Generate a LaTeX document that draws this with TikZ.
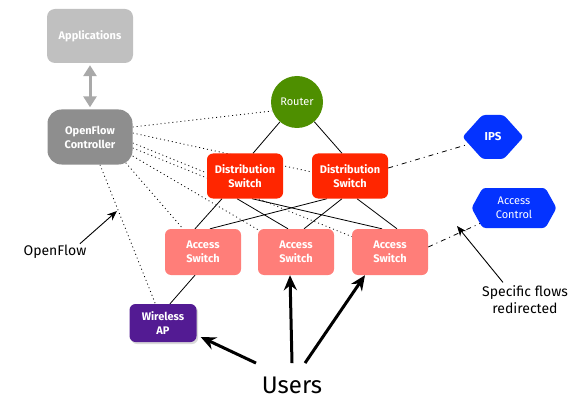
\documentclass[tikz,border=0pt]{standalone}
\usepackage{fontspec}
\setmainfont{Fira Sans}
\usetikzlibrary{arrows.meta,shapes.symbols,shadows,backgrounds}

\definecolor{appgray}{HTML}{C0C0C0}
\definecolor{ctrlgray}{HTML}{8E8E8E}
\definecolor{arrgray}{HTML}{A9A9A9}
\definecolor{routergreen}{HTML}{4E8F00}
\definecolor{distred}{HTML}{FF2600}
\definecolor{accsalmon}{HTML}{FF7E79}
\definecolor{wapurple}{HTML}{531B93}
\definecolor{secblue}{HTML}{0433FF}

\begin{document}
\begin{tikzpicture}[x=1pt,y=-1pt,
    box/.style={rounded corners=6pt, text=white, align=center, inner sep=0pt,
        font=\fontsize{11}{14}\selectfont\bfseries},
    hexa/.style={shape=signal, signal to=east and west, fill=secblue, text=white,
        align=center, inner sep=0pt, rounded corners=3pt,
        font=\fontsize{11}{14}\selectfont},
    link/.style={line width=0.8pt},
    ofline/.style={line width=0.8pt, dash pattern=on 1pt off 3pt},
    redir/.style={line width=0.8pt, dash pattern=on 5pt off 4pt on 1pt off 4pt},
    note/.style={line width=0.9pt, -{Stealth[length=10pt,width=8pt]}},
    userarr/.style={line width=3pt, -{Stealth[length=15pt,width=13pt]}},
    lbl/.style={align=center, font=\fontsize{14}{17}\selectfont}]
    \useasboundingbox (0,0) rectangle (588,414);

    % nodes
    \node[box, fill=appgray, rounded corners=8pt, minimum width=86pt, minimum height=54pt] (apps) at (90,36) {Applications};
    \node[box, fill=ctrlgray, rounded corners=14pt, minimum width=85pt, minimum height=55pt] (ctrl) at (90,137) {OpenFlow\\Controller};
    \node[circle, fill=routergreen, text=white, minimum size=52pt, inner sep=0pt,
        font=\fontsize{11}{14}\selectfont] (router) at (297,102) {Router};
    \node[box, fill=distred, minimum width=76pt, minimum height=45pt] (dist1) at (245,176) {Distribution\\Switch};
    \node[box, fill=distred, minimum width=76pt, minimum height=45pt] (dist2) at (350,176) {Distribution\\Switch};
    \node[box, fill=accsalmon, minimum width=76pt, minimum height=46pt] (acc1) at (203,252) {Access\\Switch};
    \node[box, fill=accsalmon, minimum width=76pt, minimum height=46pt] (acc2) at (296,252) {Access\\Switch};
    \node[box, fill=accsalmon, minimum width=76pt, minimum height=46pt] (acc3) at (390,252) {Access\\Switch};
    \node[box, fill=wapurple, minimum width=67pt, minimum height=38pt,
        drop shadow={opacity=0.3, shadow xshift=1.5pt, shadow yshift=-2pt}] (wap) at (163,323) {Wireless\\AP};
    \node[hexa, signal pointer angle=96, minimum width=61pt, minimum height=44pt, font=\fontsize{11.5}{14}\selectfont\bfseries] (ips) at (493,137) {IPS};
    \node[hexa, signal pointer angle=122, minimum width=85pt, minimum height=40pt] (acl) at (514,208) {Access\\Control};

    \node[font=\fontsize{24}{28}\selectfont] (users) at (292,385) {Users};
    \node[lbl] (oflbl) at (55,252) {OpenFlow};
    \node[lbl] (sflbl) at (525,300) {Specific flows\\redirected};
    \coordinate (ofpt) at (117,211);
    \coordinate (sfpt) at (457,226);

    % connectors, kept behind the nodes
    \begin{scope}[on background layer]
    \draw[link] (router) -- ([xshift=8pt]dist1.north);
    \draw[link] (router) -- ([xshift=-8pt]dist2.north);

    \draw[link] ([xshift=-23pt]dist1.south) -- ([xshift=-8pt]acc1.north);
    \draw[link] ([xshift=-8pt]dist1.south) -- ([xshift=-8pt]acc2.north);
    \draw[link] ([xshift=7pt]dist1.south) -- ([xshift=-8pt]acc3.north);
    \draw[link] ([xshift=-23pt]dist2.south) -- ([xshift=7pt]acc1.north);
    \draw[link] ([xshift=-8pt]dist2.south) -- ([xshift=8pt]acc2.north);
    \draw[link] ([xshift=7pt]dist2.south) -- ([xshift=7pt]acc3.north);
    \draw[link] ([xshift=-8pt]acc1.south) -- ([xshift=7pt]wap.north);

    \draw[ofline] ([yshift=10pt]ctrl.east) -- (router.200);
    \draw[ofline] ([yshift=4pt]ctrl.east) -- ([yshift=4pt]dist2.west);
    \draw[ofline] ([yshift=-6pt]ctrl.east) -- ([yshift=3pt]dist1.west);
    \draw[ofline] ([yshift=-11pt]ctrl.east) -- (acc3);
    \draw[ofline] ([yshift=-19pt]ctrl.east) -- (acc2);
    \draw[ofline] ([xshift=-7pt,yshift=2pt]ctrl.south east) -- (acc1);
    \draw[ofline] ([xshift=10pt]ctrl.south) -- (wap);

    \draw[redir] ([yshift=8pt]dist2.east) -- (ips);
    \draw[redir] ([yshift=5pt]acc3.east) -- (acl);
    \end{scope}

    \draw[arrgray, line width=3pt, {Triangle[length=11pt,width=13pt]}-{Triangle[length=11pt,width=13pt]}]
        ([yshift=-2pt]apps.south) -- ([yshift=2pt]ctrl.north);

    \draw[note] ([xshift=-10pt,yshift=-2pt]oflbl.north east) -- (ofpt);
    \draw[note] ([xshift=-22pt]sflbl.north) -- (sfpt);

    \draw[userarr] ([xshift=-36pt,yshift=10pt]users.north) -- ([xshift=4pt,yshift=-14pt]wap.east);
    \draw[userarr] ([yshift=10pt]users.north) -- ([xshift=-6pt]acc2.south);
    \draw[userarr] ([xshift=13pt,yshift=10pt]users.north) -- ([xshift=-25pt]acc3.south);
\end{tikzpicture}
\end{document}
